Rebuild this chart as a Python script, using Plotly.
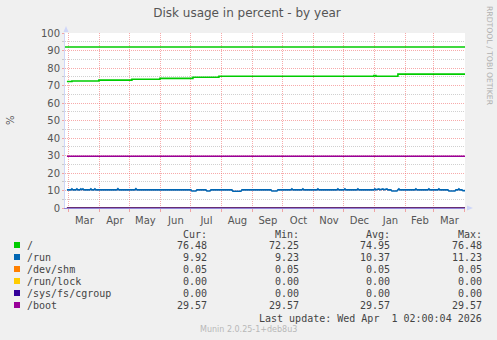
import plotly.graph_objects as go

# ---------------- data ----------------
x_start = "2025-02-25 02:00"
x_end = "2026-04-01 02:00"

root_dates = ["2025-02-27", "2025-03-04", "2025-03-31", "2025-05-03", "2025-05-31",
              "2025-07-03", "2025-07-29", "2025-12-31", "2026-01-02", "2026-01-24",
              "2026-04-01 02:00"]
root_vals = [72.25, 72.6, 73.1, 73.6, 74.1, 74.7, 75.3, 75.7, 75.3, 76.48, 76.48]

run_dates = ["2025-02-27", "2025-03-03", "2025-03-04", "2025-03-05", "2025-03-08", "2025-03-09",
             "2025-03-10", "2025-03-12", "2025-03-13", "2025-03-14", "2025-03-15", "2025-03-16",
             "2025-03-22", "2025-03-23", "2025-03-24", "2025-03-26", "2025-03-27", "2025-03-28",
             "2025-04-18", "2025-04-19", "2025-04-20", "2025-05-06", "2025-05-07", "2025-05-08",
             "2025-07-01", "2025-07-02", "2025-07-06", "2025-07-07", "2025-07-16", "2025-07-17",
             "2025-07-20", "2025-07-21", "2025-08-11", "2025-08-12", "2025-08-20", "2025-08-21",
             "2025-09-19", "2025-09-20", "2025-09-25", "2025-09-26", "2025-10-09", "2025-10-10",
             "2025-10-11", "2025-10-20", "2025-10-21", "2025-10-22", "2025-11-04", "2025-11-05",
             "2025-11-06", "2025-11-24", "2025-11-25", "2025-11-26", "2025-12-01", "2025-12-02",
             "2025-12-03", "2025-12-14", "2025-12-15", "2025-12-16", "2025-12-31", "2026-01-01",
             "2026-01-02", "2026-01-05", "2026-01-06", "2026-01-09", "2026-01-10", "2026-01-13",
             "2026-01-14", "2026-01-17", "2026-01-18", "2026-01-23", "2026-01-24", "2026-01-25",
             "2026-01-26", "2026-02-10", "2026-02-11", "2026-02-12", "2026-02-23", "2026-02-24",
             "2026-02-25", "2026-03-05", "2026-03-06", "2026-03-07", "2026-03-15", "2026-03-16",
             "2026-03-22", "2026-03-23", "2026-03-25", "2026-03-26", "2026-03-27", "2026-03-29",
             "2026-03-30", "2026-04-01 02:00"]
run_vals = [10.35, 10.35, 10.9, 10.35, 10.35, 10.9,
            10.35, 10.35, 10.9, 10.4, 10.9, 10.35,
            10.35, 10.9, 10.35, 10.35, 10.9, 10.35,
            10.35, 11.0, 10.35, 10.35, 11.0, 10.35,
            10.35, 9.7, 9.7, 10.35, 10.35, 9.7,
            9.7, 10.35, 10.35, 9.6, 9.6, 10.35,
            10.35, 9.7, 9.7, 10.35, 10.35, 10.9,
            10.35, 10.35, 10.9, 10.35, 10.35, 10.9,
            10.35, 10.35, 10.9, 10.35, 10.35, 10.9,
            10.35, 10.35, 10.9, 10.35, 10.35, 10.9,
            10.4, 10.9, 10.4, 10.9, 10.4, 10.9,
            10.35, 10.35, 9.7, 9.7, 10.35, 10.9,
            10.35, 10.35, 10.9, 10.35, 10.35, 10.9,
            10.35, 10.35, 10.9, 10.35, 10.35, 9.7,
            9.7, 10.35, 10.35, 10.9, 10.35, 10.35,
            9.9, 9.92]

flat_dates = ["2025-02-27", "2026-04-01 02:00"]
shm_vals = [0.05, 0.05]
lock_vals = [0.0, 0.0]
cgroup_vals = [0.0, 0.0]
boot_vals = [29.57, 29.57]

warn_dates = [x_start, x_end]
warn_vals = [92, 92]

labels = ["/", "/run", "/dev/shm", "/run/lock", "/sys/fs/cgroup", "/boot"]
colors = ["#00cc00", "#0066b3", "#ff8000", "#ffcc00", "#330099", "#990099"]
cur = ["76.48", "9.92", "0.05", "0.00", "0.00", "29.57"]
mins = ["72.25", "9.23", "0.05", "0.00", "0.00", "29.57"]
avgs = ["74.95", "10.37", "0.05", "0.00", "0.00", "29.57"]
maxs = ["76.48", "11.23", "0.05", "0.00", "0.00", "29.57"]
headers = ["Cur:", "Min:", "Avg:", "Max:"]

title = "Disk usage in percent - by year"
last_update = "Last update: Wed Apr  1 02:00:04 2026"
munin_ver = "Munin 2.0.25-1+deb8u3"
side_text = "RRDTOOL / TOBI OETIKER"

# ---------------- layout geometry ----------------
W, H = 497, 340
L, R, T, B = 65, 32, 33, 132
PW = W - L - R
PH = H - T - B


def px(x):
    return (x - L) / PW


def py(y):
    return (H - B - y) / PH


FONT = "DejaVu Sans"
MONO = "DejaVu Sans Mono"
TXT = "#555555"

fig = go.Figure()

fig.add_trace(go.Scatter(x=warn_dates, y=warn_vals, mode="lines",
                         line=dict(color=colors[0], width=1.6), hoverinfo="skip"))
series = [(root_dates, root_vals, "hv"), (run_dates, run_vals, "linear"),
          (flat_dates, shm_vals, "linear"), (flat_dates, lock_vals, "linear"),
          (flat_dates, cgroup_vals, "linear"), (flat_dates, boot_vals, "linear")]
for (xs, ys, shape), c, name in zip(series, colors, labels):
    fig.add_trace(go.Scatter(x=xs, y=ys, mode="lines", name=name,
                             line=dict(color=c, width=1.6, shape=shape)))

ann = []
# y axis title
ann.append(dict(x=px(10), y=py(120), xref="paper", yref="paper", text="%", textangle=-90,
                xanchor="center", yanchor="middle",
                showarrow=False, font=dict(family=FONT, size=10, color=TXT)))
# side text
ann.append(dict(x=px(490), y=py(56), xref="paper", yref="paper", text=side_text, textangle=90,
                xanchor="center", yanchor="middle",
                showarrow=False, font=dict(family=FONT, size=7.7, color="#b0b0b0")))
# legend header
col_right = [208, 300, 391, 483]
for h, xr in zip(headers, col_right):
    ann.append(dict(x=px(xr + 1), y=py(234), xref="paper", yref="paper", text=h,
                    xanchor="right", yanchor="middle", showarrow=False,
                    font=dict(family=MONO, size=10, color="#444")))
shapes = []
row_y = [245, 257, 269, 281, 293, 305]
for i, lab in enumerate(labels):
    yy = row_y[i]
    shapes.append(dict(type="rect", xref="paper", yref="paper",
                       x0=px(14), x1=px(20), y0=py(yy - 3), y1=py(yy + 3),
                       fillcolor=colors[i], line=dict(width=0)))
    ann.append(dict(x=px(25), y=py(yy), xref="paper", yref="paper", text=lab,
                    xanchor="left", yanchor="middle", showarrow=False,
                    font=dict(family=MONO, size=10, color="#444")))
    for vals, xr in zip([cur, mins, avgs, maxs], col_right):
        ann.append(dict(x=px(xr + 1), y=py(yy), xref="paper", yref="paper", text=vals[i],
                        xanchor="right", yanchor="middle", showarrow=False,
                        font=dict(family=MONO, size=10, color="#444")))
ann.append(dict(x=px(484), y=py(318), xref="paper", yref="paper", text=last_update,
                xanchor="right", yanchor="middle", showarrow=False,
                font=dict(family=MONO, size=10, color="#444")))
ann.append(dict(x=px(248), y=py(329), xref="paper", yref="paper", text=munin_ver,
                xanchor="center", yanchor="middle", showarrow=False,
                font=dict(family=FONT, size=8, color="#b8b8b8")))

# axis arrows
ac = "#cfd6f8"
shapes.append(dict(type="path", xref="paper", yref="paper",
                   path=f"M {px(63.5)} {py(32)} L {px(68.5)} {py(32)} L {px(66)} {py(26)} Z",
                   fillcolor=ac, line=dict(width=0)))
shapes.append(dict(type="path", xref="paper", yref="paper",
                   path=f"M {px(467)} {py(205.5)} L {px(467)} {py(210.5)} L {px(473)} {py(208)} Z",
                   fillcolor=ac, line=dict(width=0)))

fig.update_layout(
    width=W, height=H,
    margin=dict(l=L, r=R, t=T, b=B),
    paper_bgcolor="#f0f0f0", plot_bgcolor="#ffffff",
    showlegend=False,
    title=dict(text=title, x=247 / W, xref="container", y=1 - 13 / H, yref="container",
               xanchor="center", yanchor="middle",
               font=dict(family=FONT, size=12, color=TXT)),
    annotations=ann, shapes=shapes,
)
fig.update_xaxes(
    type="date", range=[x_start, x_end],
    tick0="2025-03-01", dtick="M1", tickformat="%b", ticklabelmode="period",
    showgrid=True, gridcolor="rgba(240,100,100,0.55)", griddash="1px,1px", gridwidth=1,
    ticks="outside", ticklen=3, tickcolor="rgba(240,100,100,0.55)",
    showline=True, linecolor="#9382d9", linewidth=1,
    tickfont=dict(family=FONT, size=10, color=TXT),
    zeroline=False, fixedrange=True,
)
fig.update_yaxes(
    range=[0, 100], tick0=0, dtick=10,
    showgrid=True, gridcolor="rgba(240,100,100,0.55)", griddash="1px,1px", gridwidth=1,
    ticks="outside", ticklen=2, tickcolor="rgba(240,100,100,0.55)",
    minor=dict(dtick=5, showgrid=True, gridcolor="rgba(150,150,150,0.45)",
               griddash="1px,1px", ticks="outside", ticklen=2,
               tickcolor="rgba(150,150,150,0.45)"),
    showline=True, linecolor=ac, linewidth=1,
    tickfont=dict(family=FONT, size=10, color=TXT),
    zeroline=False, fixedrange=True,
)

fig.write_html("out.html")
